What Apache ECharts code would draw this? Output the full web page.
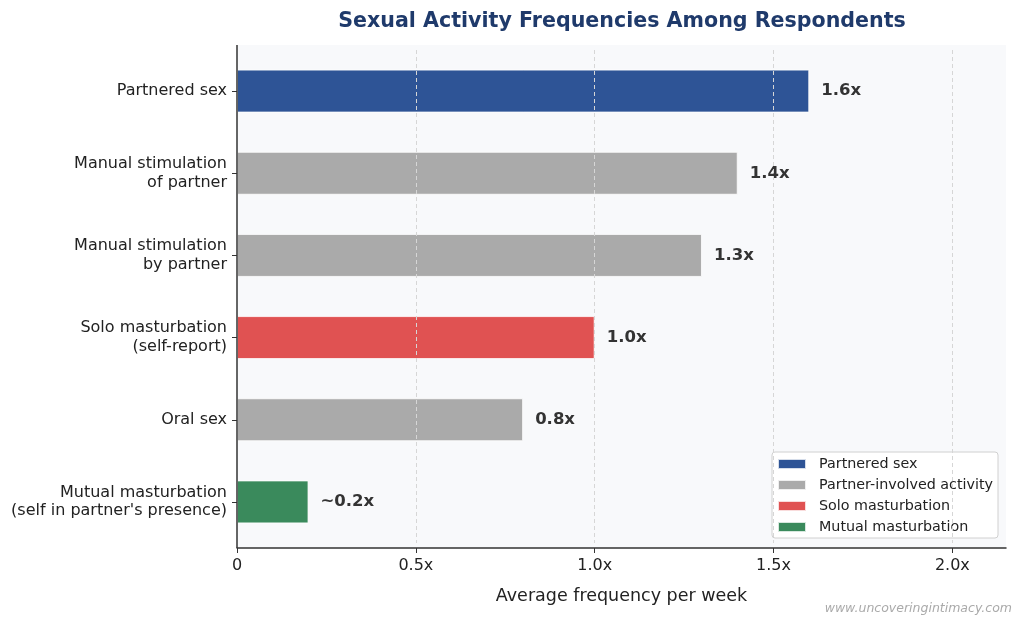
<!DOCTYPE html>
<html>
<head>
<meta charset="utf-8">
<script src="https://cdn.jsdelivr.net/npm/echarts@6/dist/echarts.min.js"></script>
<style>
  html, body { margin: 0; padding: 0; background: #ffffff; }
  #chart { width: 1024px; height: 626px; }
</style>
</head>
<body>
<div id="chart"></div>
<script>
// categories, top to bottom
const categories = [
    'Partnered sex',
    'Manual stimulation\nof partner',
    'Manual stimulation\nby partner',
    'Solo masturbation\n(self-report)',
    'Oral sex',
    'Mutual masturbation\n(self in partner\'s presence)'
];
const values = [1.6, 1.4, 1.3, 1.0, 0.8, 0.2];
const valueLabels = ['1.6x', '1.4x', '1.3x', '1.0x', '0.8x', '~0.2x'];
// which legend group each bar belongs to
const groups = ['Partnered sex', 'Partner-involved activity', 'Partner-involved activity',
    'Solo masturbation', 'Partner-involved activity', 'Mutual masturbation'];
const groupNames = ['Partnered sex', 'Partner-involved activity', 'Solo masturbation', 'Mutual masturbation'];
const groupColors = ['#2e5496', '#aaaaaa', '#e05252', '#3a8a5c'];
const xTicks = [0, 0.5, 1.0, 1.5, 2.0];

const FONT = '"DejaVu Sans", Verdana, sans-serif';

let myChart = echarts.init(document.getElementById('chart'));

// one series per legend group, stacked so bars stay centred on the category
let series = groupNames.map(function (g, gi) {
    return {
        name: g,
        type: 'bar',
        stack: 'all',
        barWidth: 43,
        itemStyle: {
            color: groupColors[gi],
            borderColor: 'rgba(255,255,255,0.8)',
            borderWidth: 1
        },
        label: {
            show: true,
            position: 'right',
            distance: 12,
            fontFamily: FONT,
            fontSize: 16.5,
            fontWeight: 'bold',
            color: '#333333',
            formatter: function (p) {
                return valueLabels[p.dataIndex];
            }
        },
        data: values.map(function (v, i) {
            return groups[i] === g ? v : '-';
        })
    };
});

// dashed vertical grid lines
series[0].markLine = {
    silent: true,
    symbol: 'none',
    label: { show: false },
    lineStyle: { type: [4, 3], color: '#d6d6d6', width: 1 },
    data: xTicks.filter(function (t) { return t > 0; }).map(function (t) {
        return { xAxis: t };
    })
};

let option = {
    backgroundColor: '#ffffff',
    animation: false,
    title: {
        text: 'Sexual Activity Frequencies Among Respondents',
        left: 617,
        textAlign: 'center',
        top: 6,
        textStyle: {
            fontFamily: FONT,
            fontSize: 20.6,
            fontWeight: 'bold',
            color: '#1f3a6b'
        }
    },
    legend: {
        orient: 'vertical',
        right: 26,
        bottom: 88,
        itemWidth: 28,
        itemHeight: 10,
        itemGap: 7,
        padding: [5, 5, 4, 5],
        backgroundColor: '#ffffff',
        borderColor: '#d0d0d0',
        borderWidth: 1,
        borderRadius: 3,
        icon: 'rect',
        textStyle: { fontFamily: FONT, fontSize: 14.3, color: '#222222', padding: [0, 0, 0, 8] },
        data: groupNames
    },
    grid: {
        left: 237,
        right: 18,
        top: 50,
        bottom: 83
    },
    xAxis: {
        type: 'value',
        min: 0,
        max: 2.15,
        interval: 0.5,
        offset: 5,
        name: 'Average frequency per week',
        nameLocation: 'middle',
        nameGap: 39,
        nameTextStyle: { fontFamily: FONT, fontSize: 17.5, color: '#222222' },
        axisLine: { show: true, lineStyle: { color: '#333333', width: 1.5 } },
        axisTick: { show: true, length: 5, customValues: xTicks, lineStyle: { color: '#333333' } },
        splitLine: { show: false },
        axisLabel: {
            customValues: xTicks,
            margin: 10,
            fontFamily: FONT,
            fontSize: 16,
            color: '#222222',
            formatter: function (v) {
                return v === 0 ? '0' : v.toFixed(1) + 'x';
            }
        }
    },
    yAxis: {
        type: 'category',
        inverse: true,
        data: categories,
        axisLine: { show: false },
        axisTick: { show: true, alignWithLabel: true, length: 5, lineStyle: { color: '#333333' } },
        axisLabel: {
            margin: 10,
            fontFamily: FONT,
            fontSize: 16,
            lineHeight: 18.5,
            color: '#222222',
            align: 'right'
        }
    },
    graphic: [
        {
            type: 'rect',
            z: -10,
            shape: { x: 237, y: 45, width: 769, height: 503 },
            style: { fill: '#f8f9fb' }
        },
        {
            type: 'line',
            z: 10,
            shape: { x1: 237, y1: 45, x2: 237, y2: 548 },
            style: { stroke: '#333333', lineWidth: 1.5 }
        },
        {
            type: 'text',
            right: 12,
            bottom: 11,
            style: {
                text: 'www.uncoveringintimacy.com',
                fontFamily: FONT,
                fontSize: 12.5,
                fontStyle: 'italic',
                fill: '#aaaaaa'
            }
        }
    ],
    series: series
};

myChart.setOption(option);
</script>
</body>
</html>
